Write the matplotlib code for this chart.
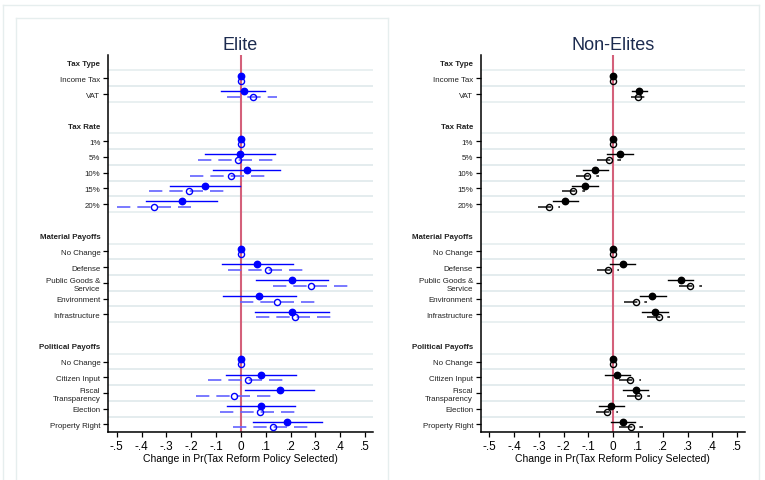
import numpy as np
import matplotlib.pyplot as plt
from matplotlib.lines import Line2D

plt.rcParams['font.family'] = ['Liberation Sans', 'DejaVu Sans']

groups = ['Tax Type', 'Tax Rate', 'Material Payoffs', 'Political Payoffs']
group_items = [
    ['Income Tax', 'VAT'],
    ['1%', '5%', '10%', '15%', '20%'],
    ['No Change', 'Defense', 'Public Goods &\nService', 'Environment', 'Infrastructure'],
    ['No Change', 'Citizen Input', 'Fiscal\nTransparency', 'Election', 'Property Right'],
]

# Elite sample: first estimate (filled, solid CI), second estimate (hollow, dashed CI)
elite_a = [0, 0.011, 0, -0.004, 0.023, -0.146, -0.239,
           0, 0.064, 0.205, 0.075, 0.207, 0, 0.081, 0.156, 0.082, 0.185]
elite_a_lo = [0, -0.079, 0, -0.145, -0.113, -0.287, -0.381,
              0, -0.077, 0.062, -0.070, 0.058, 0, -0.060, 0.017, -0.056, 0.047]
elite_a_hi = [0, 0.098, 0, 0.138, 0.158, -0.005, -0.097,
              0, 0.208, 0.350, 0.221, 0.356, 0, 0.223, 0.293, 0.219, 0.325]
elite_b = [0, 0.047, 0, -0.011, -0.040, -0.207, -0.350,
           0, 0.111, 0.283, 0.145, 0.217, 0, 0.030, -0.026, 0.077, 0.128]
elite_b_lo = [0, -0.055, 0, -0.174, -0.204, -0.370, -0.499,
              0, -0.052, 0.129, -0.005, 0.062, 0, -0.134, -0.180, -0.086, -0.032]
elite_b_hi = [0, 0.145, 0, 0.142, 0.113, -0.056, -0.200,
              0, 0.262, 0.443, 0.299, 0.373, 0, 0.183, 0.132, 0.230, 0.282]

# Non-elite sample
nonelite_a = [0, 0.106, 0, 0.027, -0.072, -0.112, -0.195,
              0, 0.039, 0.272, 0.158, 0.170, 0, 0.016, 0.091, -0.007, 0.039]
nonelite_a_lo = [0, 0.074, 0, -0.024, -0.124, -0.165, -0.245,
                 0, -0.011, 0.222, 0.107, 0.116, 0, -0.035, 0.040, -0.058, -0.009]
nonelite_a_hi = [0, 0.138, 0, 0.079, -0.020, -0.060, -0.142,
                 0, 0.088, 0.321, 0.213, 0.221, 0, 0.068, 0.142, 0.044, 0.088]
nonelite_b = [0, 0.102, 0, -0.017, -0.104, -0.161, -0.261,
              0, -0.021, 0.311, 0.091, 0.183, 0, 0.067, 0.102, -0.025, 0.072]
nonelite_b_lo = [0, 0.072, 0, -0.064, -0.151, -0.207, -0.305,
                 0, -0.067, 0.266, 0.044, 0.137, 0, 0.023, 0.055, -0.071, 0.025]
nonelite_b_hi = [0, 0.130, 0, 0.031, -0.058, -0.114, -0.216,
                 0, 0.023, 0.357, 0.138, 0.230, 0, 0.114, 0.147, 0.020, 0.119]

xticks = [-0.5, -0.4, -0.3, -0.2, -0.1, 0, 0.1, 0.2, 0.3, 0.4, 0.5]
xtick_labels = ['-.5', '-.4', '-.3', '-.2', '-.1', '0', '.1', '.2', '.3', '.4', '.5']

# row layout: header, items, blank spacer
labels, header_rows, item_rows = [], [], []
pos = 0
for g, items in zip(groups, group_items):
    labels.append(g)
    header_rows.append(pos)
    pos += 1
    for it in items:
        labels.append(it)
        item_rows.append(pos)
        pos += 1
    labels.append('')
    pos += 1
labels = labels[:-1]
n_rows = len(labels)
item_rows = np.array(item_rows)

dash = (0, (8, 4.2))


def draw_panel(ax, title, col_a, col_b_line, a, a_lo, a_hi, b, b_lo, b_hi):
    for r in item_rows:
        ax.axhline(r - 0.5, color='#e3ecee', lw=1.1, zorder=0)
        ax.axhline(r + 0.5, color='#e3ecee', lw=1.1, zorder=0)
    ax.axvline(0, color='#d4607a', lw=1.5, zorder=1)

    ya = item_rows - 0.17
    yb = item_rows + 0.19
    for i in range(len(item_rows)):
        ax.plot([a_lo[i], a_hi[i]], [ya[i], ya[i]], color=col_a, lw=1.0, zorder=2)
        ax.plot([b_lo[i], b_hi[i]], [yb[i], yb[i]], color=col_b_line, lw=1.2,
                linestyle=dash, zorder=2)
    ax.plot(a, ya, 'o', color=col_a, ms=4.6, zorder=3)
    ax.plot(b, yb, 'o', mfc='none', mec=col_a, mew=1.0, ms=4.4, zorder=3)

    ax.set_xlim(-0.535, 0.532)
    ax.set_ylim(n_rows - 0.5, -0.5)
    ax.set_yticks(range(n_rows))
    ax.set_yticklabels(labels, fontsize=5.7, color='#222222')
    ticks = ax.yaxis.get_major_ticks()
    for i, lab in enumerate(labels):
        if i not in item_rows:
            ticks[i].tick1line.set_visible(False)
        if i in header_rows:
            ticks[i].label1.set_fontweight('bold')
    ax.set_xticks(xticks)
    ax.set_xticklabels(xtick_labels, fontsize=8.5)
    ax.tick_params(axis='both', length=3.5, width=0.9, pad=2)
    ax.set_xlabel('Change in Pr(Tax Reform Policy Selected)', fontsize=7.5, labelpad=1)
    ax.set_title(title, fontsize=13, color='#1c2b4f', pad=4)
    for s in ['top', 'right']:
        ax.spines[s].set_visible(False)
    for s in ['left', 'bottom']:
        ax.spines[s].set_linewidth(1.1)


fig = plt.figure(figsize=(7.65, 4.81), dpi=100)

# light panel frames
frame_col = '#e6eeee'
W, H = 765, 481
def fline(x0, y0, x1, y1):
    fig.add_artist(Line2D([x0 / W, x1 / W], [1 - y0 / H, 1 - y1 / H],
                          color=frame_col, lw=1.0, transform=fig.transFigure))
fline(3, 6, 759, 6)
fline(3, 6, 3, 481)
fline(759, 6, 759, 481)
fline(16, 19, 388, 19)
fline(16, 19, 16, 481)
fline(388, 19, 388, 481)

ax1 = fig.add_axes([108 / W, 1 - 433.3 / H, 265 / W, 377.6 / H])
ax2 = fig.add_axes([480.7 / W, 1 - 433.3 / H, 264.3 / W, 377.6 / H])

draw_panel(ax1, 'Elite', '#0000ff', '#6262ff',
           elite_a, elite_a_lo, elite_a_hi, elite_b, elite_b_lo, elite_b_hi)
draw_panel(ax2, 'Non-Elites', '#000000', '#222222',
           nonelite_a, nonelite_a_lo, nonelite_a_hi, nonelite_b, nonelite_b_lo, nonelite_b_hi)

fig.savefig('out.png', dpi=100)
